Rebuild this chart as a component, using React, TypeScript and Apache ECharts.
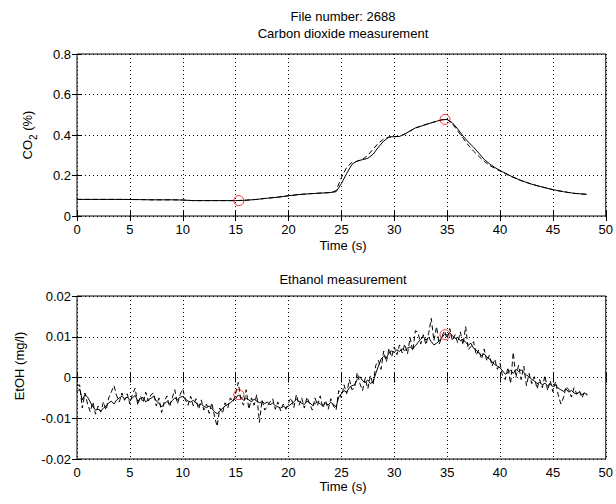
import React, { useEffect, useRef } from "react";
import * as echarts from "echarts";

// ---- CO2 (top panel) ----
const co2Time = [0, 2, 4, 6, 7, 8, 9, 10, 11, 12, 13, 14, 15, 16, 17, 18, 19, 20, 21, 22, 23, 24, 24.5, 25, 25.5, 26, 26.5, 27, 27.5, 28, 28.5, 29, 29.5, 30, 30.5, 31, 31.5, 32, 32.5, 33, 33.5, 34, 34.5, 35, 35.5, 36, 36.5, 37, 37.5, 38, 38.5, 39, 39.5, 40, 41, 42, 43, 44, 45, 46, 47, 48.2];
const co2Solid = [0.082, 0.082, 0.082, 0.081, 0.08, 0.08, 0.08, 0.079, 0.076, 0.076, 0.076, 0.076, 0.076, 0.078, 0.082, 0.088, 0.093, 0.1, 0.106, 0.11, 0.113, 0.116, 0.12, 0.16, 0.21, 0.255, 0.272, 0.278, 0.285, 0.305, 0.34, 0.37, 0.39, 0.392, 0.393, 0.405, 0.42, 0.435, 0.443, 0.452, 0.46, 0.468, 0.475, 0.477, 0.46, 0.43, 0.395, 0.365, 0.34, 0.31, 0.28, 0.258, 0.24, 0.225, 0.198, 0.175, 0.157, 0.143, 0.13, 0.12, 0.112, 0.107];
const co2Dashed = [0.082, 0.082, 0.082, 0.081, 0.08, 0.08, 0.08, 0.079, 0.076, 0.076, 0.076, 0.076, 0.076, 0.078, 0.082, 0.088, 0.093, 0.1, 0.106, 0.11, 0.113, 0.116, 0.125, 0.19, 0.24, 0.265, 0.27, 0.28, 0.3, 0.33, 0.36, 0.38, 0.39, 0.392, 0.393, 0.405, 0.42, 0.435, 0.443, 0.452, 0.46, 0.468, 0.475, 0.477, 0.455, 0.42, 0.385, 0.35, 0.32, 0.295, 0.27, 0.25, 0.236, 0.222, 0.196, 0.175, 0.157, 0.143, 0.13, 0.12, 0.112, 0.107];
const co2MarkTime = [15.3, 34.8];
const co2MarkValue = [0.076, 0.477];

// ---- Ethanol (bottom panel), values in 1e-3 mg/l, sampled every 0.25 s from t = 0 ----
const ETOH_DT = 0.25;
const etohSolidMilli = [
  -3.5, -2.8, -5.5, -4.2, -4.8, -6.0, -7.2, -8.0, -7.8, -8.2, -7.5, -7.0, -6.2, -5.8, -6.5, -5.5, -5.0, -4.6, -5.2, -4.8,
  -5.6, -5.0, -4.4, -5.8, -5.2, -4.9, -6.0, -5.4, -5.1, -4.6, -5.8, -6.3, -7.2, -6.5, -5.9, -6.4, -5.7, -5.0, -5.5, -4.8,
  -4.7, -5.3, -5.8, -6.0, -5.6, -6.2, -6.8, -6.5, -7.1, -7.4, -7.0, -7.6, -8.4, -8.9, -8.2, -7.6, -7.0, -6.6, -6.2, -5.6,
  -5.2, -4.3, -4.8, -5.6, -5.1, -5.5, -6.0, -5.3, -5.8, -6.2, -5.9, -6.4, -6.0, -6.7, -6.3, -6.9, -7.2, -7.5, -7.1, -7.4,
  -7.0, -6.5, -6.0, -5.4, -5.9, -6.3, -6.6, -5.8, -6.2, -6.8, -6.4, -6.0, -6.5, -6.9, -6.3, -6.7, -6.1, -6.6, -7.2, -4.8,
  -4.0, -3.2, -3.6, -2.5, -2.0, -1.8, -0.5, 0.2, -0.8, -1.2, -0.6, -1.5, -1.0, 1.0, 2.8, 4.5, 5.2, 4.8, 6.0, 6.5,
  6.2, 6.8, 6.4, 7.0, 6.6, 7.2, 7.5, 7.0, 7.8, 8.6, 9.4, 10.0, 9.2, 9.8, 8.8, 8.0, 8.4, 9.0, 9.8, 10.6,
  10.4, 11.0, 10.2, 9.6, 9.8, 9.0, 9.4, 8.6, 8.0, 8.4, 7.2, 6.8, 6.0, 5.4, 5.8, 5.0, 4.6, 3.8, 3.2, 2.8,
  2.4, 1.6, 0.8, 1.2, 1.8, 1.0, 2.0, 1.5, 1.9, 1.2, 0.6, 0.2, -0.5, -0.8, -1.5, -1.2, -1.8, -1.4, -2.0, -1.6,
  -2.2, -1.8, -2.6, -3.0, -3.4, -2.8, -3.6, -3.2, -3.8, -4.1, -3.6, -4.2, -3.8, -4.4,
];
const etohDashedMilli = [
  -2.0, -1.8, -7.5, -3.8, -6.5, -8.4, -6.0, -9.0, -7.0, -8.5, -6.0, -8.0, -5.0, -3.5, -2.0, -4.5, -6.0, -3.8, -5.6, -4.0,
  -6.5, -4.0, -2.6, -6.8, -4.5, -6.2, -3.6, -5.8, -4.2, -3.8, -7.0, -5.0, -8.6, -6.0, -4.5, -7.2, -5.0, -3.0, -6.5, -4.2,
  -2.8, -5.5, -6.8, -4.6, -7.0, -5.2, -7.8, -5.5, -8.0, -6.5, -8.8, -6.2, -9.5, -12.0, -7.5, -8.8, -6.2, -7.5, -5.0, -6.0,
  -4.0, -1.2, -5.5, -6.8, -3.0, -7.8, -5.0, -6.8, -4.2, -11.0, -5.5, -8.0, -7.0, -6.0, -5.2, -7.8, -6.0, -8.2, -6.5, -7.8,
  -6.2, -5.0, -7.4, -4.2, -6.8, -5.0, -7.5, -4.8, -6.5, -8.0, -5.0, -6.8, -4.5, -7.5, -5.6, -7.8, -5.2, -7.0, -8.0, -3.2,
  -5.0, -1.8, -4.0, -0.5, -3.0, -2.5, 1.2, -1.5, -3.2, -0.2, -2.8, 0.5, -1.8, 3.0, 4.2, 2.0, 6.5, 3.8, 7.2, 5.0,
  7.5, 5.6, 8.0, 6.0, 8.2, 5.8, 9.8, 6.5, 11.5, 11.0, 8.2, 10.5, 8.0, 10.8, 14.5, 9.0, 12.5, 8.2, 10.0, 11.5,
  9.5, 12.0, 9.0, 10.5, 8.5, 11.2, 8.0, 12.5, 6.8, 7.6, 8.8, 5.5, 6.8, 4.5, 7.0, 4.0, 5.5, 2.8, 4.5, 2.0,
  3.5, 0.2, -0.5, 2.5, -1.5, 6.2, 0.0, 3.0, -0.5, 2.8, -2.0, 1.0, -1.5, 0.2, -2.8, -0.5, -2.5, 0.5, -3.2, -0.8,
  -3.5, -1.0, -4.2, -6.5, -5.0, -2.2, -3.0, -4.8, -2.5, -4.0, -3.2, -5.0, -3.5, -4.2,
];
const etohMarkTime = [15.3, 34.8];
const etohMarkValue = [-0.0042, 0.0105];

const xTicks = { min: 0, max: 50, interval: 5 };
const co2Ticks = { min: 0, max: 0.8, interval: 0.2 };
const etohTicks = { min: -0.02, max: 0.02, interval: 0.01 };

const FONT = "'Liberation Sans', Arial, sans-serif";

function pairs(t: number[], v: number[]) {
  return t.map((x, i) => [x, v[i]]);
}
function regular(v: number[], dt: number, scale: number) {
  return v.map((y, i) => [i * dt, y / scale]);
}

export default function App() {
  const ref = useRef<HTMLDivElement>(null);
  useEffect(() => {
    if (!ref.current) return;
    const chart = echarts.init(ref.current, undefined, { renderer: "svg" });

    const labelStyle = { color: "#000", fontSize: 13, fontFamily: FONT, lineHeight: 13 };
    const dotted = { show: true, lineStyle: { color: "#000", type: [1, 3] as any, width: 1 } };
    const mkX = (grid: number, main: boolean) => ({
      type: "value",
      gridIndex: grid,
      position: main ? "bottom" : "top",
      ...xTicks,
      axisLine: { show: false },
      axisTick: { show: true, inside: true, length: 5, lineStyle: { color: "#000" } },
      axisLabel: main ? { ...labelStyle, margin: 7 } : { show: false },
      splitLine: main ? dotted : { show: false },
    });
    const fmt = (v: number) => (Math.abs(v) < 1e-12 ? "0" : String(parseFloat(v.toFixed(4))));
    const mkY = (grid: number, main: boolean, ticks: any) => ({
      type: "value",
      gridIndex: grid,
      position: main ? "left" : "right",
      ...ticks,
      axisLine: { show: false },
      axisTick: { show: true, inside: true, length: 5, lineStyle: { color: "#000" } },
      axisLabel: main ? { ...labelStyle, margin: 6, formatter: fmt } : { show: false },
      splitLine: main ? dotted : { show: false },
    });

    const lineSeries = (data: any, xi: number, yi: number, dashed: boolean) => ({
      type: "line",
      xAxisIndex: xi,
      yAxisIndex: yi,
      data,
      showSymbol: false,
      symbol: "none",
      lineStyle: { color: "#000", width: 1, type: dashed ? ([5, 3] as any) : "solid" },
      silent: true,
      z: dashed ? 3 : 4,
    });
    const markSeries = (data: any, xi: number, yi: number) => ({
      type: "scatter",
      xAxisIndex: xi,
      yAxisIndex: yi,
      data,
      symbol: "circle",
      symbolSize: 10,
      itemStyle: { color: "transparent", borderColor: "#ff0000", borderWidth: 1 },
      z: 5,
    });

    const text = (t: string, x: number, y: number, extra: any = {}) => ({
      type: "text",
      x,
      y,
      ...extra,
      style: {
        text: t,
        fill: "#000",
        fontSize: 13,
        fontFamily: FONT,
        textAlign: "center",
        textVerticalAlign: "middle",
        ...(extra.style || {}),
      },
    });

    chart.setOption({
      animation: false,
      backgroundColor: "#fff",
      grid: [
        { left: 77, top: 54, width: 532, height: 162, show: true, borderColor: "#000", borderWidth: 1, backgroundColor: "transparent" },
        { left: 77, top: 296, width: 532, height: 163, show: true, borderColor: "#000", borderWidth: 1, backgroundColor: "transparent" },
      ],
      xAxis: [mkX(0, true), mkX(0, false), mkX(1, true), mkX(1, false)],
      yAxis: [mkY(0, true, co2Ticks), mkY(0, false, co2Ticks), mkY(1, true, etohTicks), mkY(1, false, etohTicks)],
      series: [
        lineSeries(pairs(co2Time, co2Dashed), 0, 0, true),
        lineSeries(pairs(co2Time, co2Solid), 0, 0, false),
        markSeries(pairs(co2MarkTime, co2MarkValue), 0, 0),
        lineSeries(regular(etohDashedMilli, ETOH_DT, 1000), 2, 2, true),
        lineSeries(regular(etohSolidMilli, ETOH_DT, 1000), 2, 2, false),
        markSeries(pairs(etohMarkTime, etohMarkValue), 2, 2),
      ],
      graphic: [
        text("File number: 2688", 343, 16),
        text("Carbon dioxide measurement", 343, 33),
        text("Time (s)", 343, 245),
        text("Ethanol measurement", 343, 279),
        text("Time (s)", 343, 486),
        {
          type: "text",
          x: 27,
          y: 135,
          rotation: Math.PI / 2,
          style: {
            text: "{a|CO}{s|2}{a| (%)}",
            fill: "#000",
            fontFamily: FONT,
            fontSize: 13,
            textAlign: "center",
            textVerticalAlign: "middle",
            rich: {
              a: { fontSize: 13, fontFamily: FONT, fill: "#000", lineHeight: 18, verticalAlign: "middle" },
              s: { fontSize: 10, fontFamily: FONT, fill: "#000", lineHeight: 18, verticalAlign: "bottom", padding: [0, 0, -2, 0] },
            },
          },
        },
        text("EtOH (mg/l)", 19, 366, { rotation: Math.PI / 2 }),
      ],
    });
    return () => chart.dispose();
  }, []);
  return (
    <div
      ref={ref}
      style={{ position: "fixed", left: 0, top: 0, width: 616, height: 504, background: "#fff" }}
    />
  );
}
